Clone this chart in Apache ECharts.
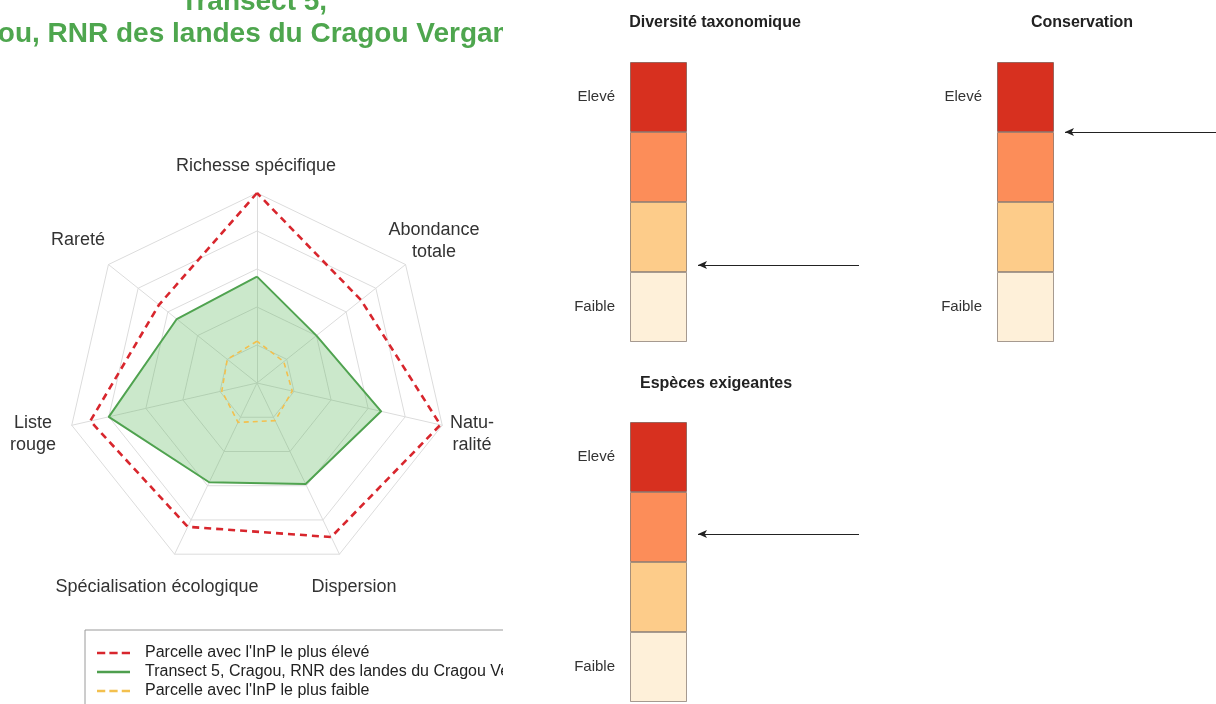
<!DOCTYPE html>
<html><head><meta charset="utf-8">
<script src="https://cdn.jsdelivr.net/npm/echarts@6/dist/echarts.min.js"></script>
<style>
html,body{margin:0;padding:0;width:1216px;height:704px;overflow:hidden;background:#fff;}
#right{position:absolute;left:0;top:0;width:1216px;height:704px;}
#leftwrap{position:absolute;left:0;top:0;width:503px;height:704px;overflow:hidden;background:#fff;z-index:2;}
#left{position:absolute;left:0;top:0;width:503px;height:730px;}
</style></head><body>
<div id="right"></div>
<div id="leftwrap"><div id="left"></div></div>
<script>
// ---- Radar data (indicator order: counterclockwise from top) ----
const indicatorNames = ['Richesse spécifique','Rareté','Liste rouge','Spécialisation écologique','Dispersion','Naturalité','Abondance totale'];
const axisLabelTexts = ['Richesse spécifique','Rareté','Liste\nrouge','Spécialisation écologique','Dispersion','Natu-\nralité','Abondance\ntotale'];
const seriesNames = ["Parcelle avec l'InP le plus élevé", "Transect 5, Cragou, RNR des landes du Cragou Vergam", "Parcelle avec l'InP le plus faible"];
const maxValues = [1.00, 0.66, 0.90, 0.84, 0.90, 0.99, 0.70];
const transectValues = [0.56, 0.54, 0.80, 0.58, 0.59, 0.67, 0.40];
const minValues = [0.22, 0.20, 0.19, 0.23, 0.22, 0.19, 0.18];
const titleLines = ['Transect 5,', 'Cragou, RNR des landes du Cragou Vergam'];

// ---- Level panels ----
const panelTitles = ['Diversité taxonomique','Conservation','Espèces exigeantes'];
const levelLabels = ['Faible','','','Elevé'];
const levelColors = ['#fef0d9','#fdcc8a','#fc8d59','#d7301f'];
const arrowLevels = [1.1, 3.0, 2.4];

const FF = '"Liberation Sans", Arial, Helvetica, sans-serif';

// layout (positions only)
const labelPos = [[256,166],[78,240],[33,434],[157,587],[354,587],[472,434],[434,241]];
const panelLayout = [
  {barLeft:630, top:62, arrowLeft:698, arrowWidth:161, titleX:715, titleY:23},
  {barLeft:997, top:62, arrowLeft:1065, arrowWidth:200, titleX:1082, titleY:23},
  {barLeft:630, top:422, arrowLeft:698, arrowWidth:161, titleX:716, titleY:384}
];

const colors = ['#d8262d', '#4e9f4e', '#f3c04e'];
const legendIcons = [
  'path://M0,0h8v2.5h-8z M12,0h8v2.5h-8z M24,0h8v2.5h-8z',
  'path://M0,0h32v2.5h-32z',
  'path://M0,0h8v2.5h-8z M12,0h8v2.5h-8z M24,0h8v2.5h-8z'
];

// ---------- Left chart: radar ----------
const left = echarts.init(document.getElementById('left'));
const leftGraphic = [
  {type:'text', x:254, y:2, style:{text:titleLines[0], fill:'#4ea64e', fontSize:28, fontWeight:'bold', fontFamily:FF, align:'center', verticalAlign:'middle'}},
  {type:'text', x:-66, y:34, style:{text:titleLines[1], fill:'#4ea64e', fontSize:28, fontWeight:'bold', fontFamily:FF, align:'left', verticalAlign:'middle'}}
];
axisLabelTexts.forEach((t,i)=>{
  leftGraphic.push({type:'text', x:labelPos[i][0], y:labelPos[i][1], style:{text:t, fill:'#333', fontSize:18, fontFamily:FF, align:'center', verticalAlign:'middle', lineHeight:22}});
});
left.setOption({
  animation:false,
  radar:{
    center:[257,383], radius:190, startAngle:90, splitNumber:5, shape:'polygon',
    indicator: indicatorNames.map(n=>({name:n, min:0, max:1})),
    axisName:{show:false},
    splitLine:{lineStyle:{color:'#dcdcdc', width:1}},
    splitArea:{show:false},
    axisLine:{lineStyle:{color:'#dcdcdc', width:1}}
  },
  legend:{
    orient:'vertical', left:85, top:630, padding:[15,20,6,12], itemGap:3,
    itemWidth:33, itemHeight:3, borderColor:'#9a9a9a', borderWidth:1, selectedMode:false,
    textStyle:{fontSize:16, color:'#222', fontFamily:FF, padding:[0,0,0,10]},
    data: seriesNames.map((n,i)=>({name:n, icon:legendIcons[i]}))
  },
  series:[{
    type:'radar', symbol:'none', silent:true,
    data:[
      {name:seriesNames[1], value:transectValues, lineStyle:{color:colors[1], width:2}, itemStyle:{color:colors[1]}, areaStyle:{color:'rgba(92,184,92,0.45)'}},
      {name:seriesNames[2], value:minValues, lineStyle:{color:colors[2], width:1.6, type:[5,4]}, itemStyle:{color:colors[2]}},
      {name:seriesNames[0], value:maxValues, lineStyle:{color:colors[0], width:2.6, type:[7,5]}, itemStyle:{color:colors[0]}}
    ]
  }],
  graphic: leftGraphic
});

// ---------- Right chart: level bars ----------
const right = echarts.init(document.getElementById('right'));
const grids=[], xAxes=[], yAxes=[], series=[], rightGraphic=[];
panelLayout.forEach((p,i)=>{
  const gb = 2*i, ga = 2*i+1;
  grids.push({left:p.barLeft, top:p.top, width:57, height:280, containLabel:false});
  grids.push({left:p.arrowLeft, top:p.top, width:p.arrowWidth, height:280, containLabel:false});
  xAxes.push({gridIndex:gb, type:'value', min:0, max:1, show:false});
  yAxes.push({gridIndex:gb, type:'category', data:levelLabels,
    axisLine:{show:false}, axisTick:{show:false}, splitLine:{show:false},
    axisLabel:{color:'#333', fontSize:15, margin:15, fontFamily:FF}});
  xAxes.push({gridIndex:ga, type:'value', min:0, max:1, show:false});
  yAxes.push({gridIndex:ga, type:'value', min:0, max:4, show:false});
  series.push({type:'bar', xAxisIndex:gb, yAxisIndex:gb, barCategoryGap:'0%', silent:true,
    itemStyle:{borderColor:'rgba(60,40,30,0.45)', borderWidth:1},
    data: levelColors.map(c=>({value:1, itemStyle:{color:c}}))});
  series.push({type:'line', xAxisIndex:ga, yAxisIndex:ga, data:[], silent:true,
    markLine:{silent:true, symbol:['arrow','none'], symbolSize:[6,9], label:{show:false},
      lineStyle:{color:'#222', width:1.2, type:'solid'}, data:[{yAxis:arrowLevels[i]}]}});
  rightGraphic.push({type:'text', x:p.titleX, y:p.titleY, style:{text:panelTitles[i], fill:'#222', fontSize:16, fontWeight:'bold', fontFamily:FF, align:'center', verticalAlign:'middle'}});
});
right.setOption({animation:false, grid:grids, xAxis:xAxes, yAxis:yAxes, series:series, graphic:rightGraphic});
</script>
</body></html>
